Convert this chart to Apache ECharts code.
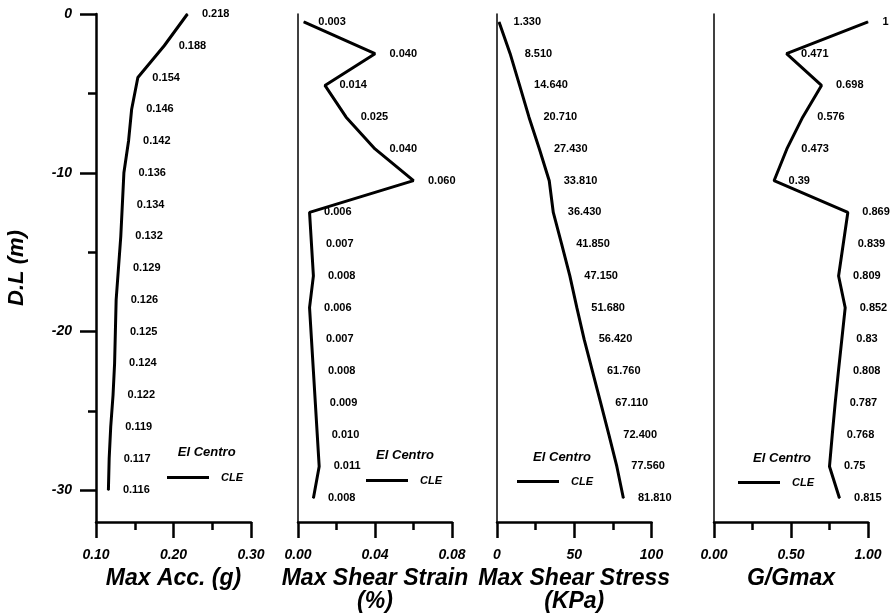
<!DOCTYPE html>
<html>
<head>
<meta charset="utf-8">
<script src="https://cdn.jsdelivr.net/npm/echarts@6/dist/echarts.min.js"></script>
<style>
html,body{margin:0;padding:0;background:#fff;}
#c{width:893px;height:613px;}
</style>
</head>
<body>
<div id="c"></div>
<script>
// ---- data ----
var depthA = [0, -2, -4, -6, -8, -10, -12, -14, -16, -18, -20, -22, -24, -26, -28, -30];
var depthB = [-0.5, -2.5, -4.5, -6.5, -8.5, -10.5, -12.5, -14.5, -16.5, -18.5, -20.5, -22.5, -24.5, -26.5, -28.5, -30.5];
var maxAcc = [0.218, 0.188, 0.154, 0.146, 0.142, 0.136, 0.134, 0.132, 0.129, 0.126, 0.125, 0.124, 0.122, 0.119, 0.117, 0.116];
var maxStrain = [0.003, 0.040, 0.014, 0.025, 0.040, 0.060, 0.006, 0.007, 0.008, 0.006, 0.007, 0.008, 0.009, 0.010, 0.011, 0.008];
var maxStress = [1.330, 8.510, 14.640, 20.710, 27.430, 33.810, 36.430, 41.850, 47.150, 51.680, 56.420, 61.760, 67.110, 72.400, 77.560, 81.810];
var gRatio = [1, 0.471, 0.698, 0.576, 0.473, 0.39, 0.869, 0.839, 0.809, 0.852, 0.83, 0.808, 0.787, 0.768, 0.75, 0.815];
var depthMajorTicks = [-30, -20, -10, 0];
var depthMinorTicks = [-25, -15, -5];
var axisNames = ['Max Acc. (g)', 'Max Shear Strain\n(%)', 'Max Shear Stress\n(KPa)', 'G/Gmax'];
var seriesName = 'CLE';
var legendTitle = 'El Centro';

var FONT = '"Liberation Sans", Arial, sans-serif';
var chart = echarts.init(document.getElementById('c'), null, {renderer: 'canvas'});

var grids = [
  {left: 96, width: 155, top: 14, height: 508},
  {left: 298, width: 154, top: 14, height: 508},
  {left: 497, width: 154.5, top: 14, height: 508},
  {left: 714, width: 154, top: 14, height: 508}
];
grids.forEach(function (g) { g.outerBoundsMode = 'none'; g.containLabel = false; });

function xAxisCfg(gi, min, max, interval, fmt, name) {
  return {
    type: 'value', gridIndex: gi, position: 'bottom', min: min, max: max, interval: interval,
    axisLine: {show: true, onZero: false, lineStyle: {color: '#000', width: 2.5}},
    axisTick: {show: true, length: 16, lineStyle: {color: '#000', width: 2.5}},
    minorTick: {show: true, splitNumber: 2, length: 8, lineStyle: {color: '#000', width: 2.5}},
    splitLine: {show: false},
    axisLabel: {show: true, margin: 26, formatter: fmt, color: '#000',
      fontFamily: FONT, fontSize: 14, fontStyle: 'italic', fontWeight: 'bold'},
    name: name, nameLocation: 'middle', nameGap: 40,
    nameTextStyle: {color: '#000', fontFamily: FONT, fontSize: 23, fontStyle: 'italic',
      fontWeight: 'bold', lineHeight: 23, verticalAlign: 'top'}
  };
}

var xAxes = [
  xAxisCfg(0, 0.1, 0.3, 0.1, function (v) { return v.toFixed(2); }, axisNames[0]),
  xAxisCfg(1, 0, 0.08, 0.04, function (v) { return v.toFixed(2); }, axisNames[1]),
  xAxisCfg(2, 0, 100, 50, function (v) { return String(Math.round(v)); }, axisNames[2]),
  xAxisCfg(3, 0, 1, 0.5, function (v) { return v.toFixed(2); }, axisNames[3])
];

var yAxes = [
  {
    type: 'value', gridIndex: 0, position: 'left', min: -32, max: 0,
    axisLine: {show: true, onZero: false, lineStyle: {color: '#000', width: 2.5}},
    axisTick: {show: true, customValues: depthMajorTicks, length: 16, lineStyle: {color: '#000', width: 2.5}},
    splitLine: {show: false},
    axisLabel: {show: true, customValues: depthMajorTicks, margin: 24, color: '#000',
      fontFamily: FONT, fontSize: 14, fontStyle: 'italic', fontWeight: 'bold'},
    name: 'D.L (m)', nameLocation: 'middle', nameGap: 68,
    nameTextStyle: {color: '#000', fontFamily: FONT, fontSize: 22, fontStyle: 'italic', fontWeight: 'bold'}
  },
  {
    type: 'value', gridIndex: 0, position: 'left', offset: 0, min: -32, max: 0,
    axisLine: {show: false},
    axisTick: {show: true, customValues: depthMinorTicks, length: 8, lineStyle: {color: '#000', width: 2.5}},
    splitLine: {show: false},
    axisLabel: {show: false}
  }
];
[1, 2, 3].forEach(function (gi) {
  yAxes.push({
    type: 'value', gridIndex: gi, position: 'left', min: -32, max: 0,
    axisLine: {show: true, onZero: false, lineStyle: {color: '#000', width: 1.5}},
    axisTick: {show: false}, splitLine: {show: false}, axisLabel: {show: false}
  });
});

function mkSeries(xi, yi, vals, depths, fmt) {
  return {
    type: 'line', name: seriesName, xAxisIndex: xi, yAxisIndex: yi,
    data: vals.map(function (v, i) { return [v, depths[i]]; }),
    symbol: 'circle', symbolSize: 1, showSymbol: true,
    itemStyle: {color: '#000'},
    lineStyle: {color: '#000', width: 3},
    label: {show: true, position: 'right', distance: 14, color: '#000',
      fontFamily: FONT, fontSize: 11, fontWeight: 'bold',
      formatter: function (p) { return fmt(p.value[0]); }},
    animation: false
  };
}
var f3 = function (v) { return v.toFixed(3); };
var series = [
  mkSeries(0, 0, maxAcc, depthA, f3),
  mkSeries(1, 2, maxStrain, depthB, f3),
  mkSeries(2, 3, maxStress, depthB, f3),
  mkSeries(3, 4, gRatio, depthB, function (v) { return String(v); })
];

var legendPos = [[167, 472], [366, 475], [517, 476], [738, 477]];
var legends = legendPos.map(function (p) {
  return {
    left: p[0], top: p[1], padding: 0, orient: 'horizontal',
    data: [{name: seriesName, icon: 'rect'}],
    itemWidth: 42, itemHeight: 3, selectedMode: false,
    itemStyle: {color: '#000'},
    textStyle: {color: '#000', fontFamily: FONT, fontSize: 11, fontStyle: 'italic', fontWeight: 'bold', padding: [0, 0, 0, 7]}
  };
});

var titlePos = [[206.7, 452], [405, 455], [562, 457], [782, 458]];
var graphics = titlePos.map(function (p) {
  return {
    type: 'text', x: p[0], y: p[1], silent: true,
    style: {text: legendTitle, align: 'center', verticalAlign: 'middle', fill: '#000',
      font: 'italic bold 13px ' + FONT}
  };
});

chart.setOption({
  backgroundColor: '#fff',
  animation: false,
  grid: grids,
  xAxis: xAxes,
  yAxis: yAxes,
  series: series,
  legend: legends,
  graphic: graphics
});
</script>
</body>
</html>
